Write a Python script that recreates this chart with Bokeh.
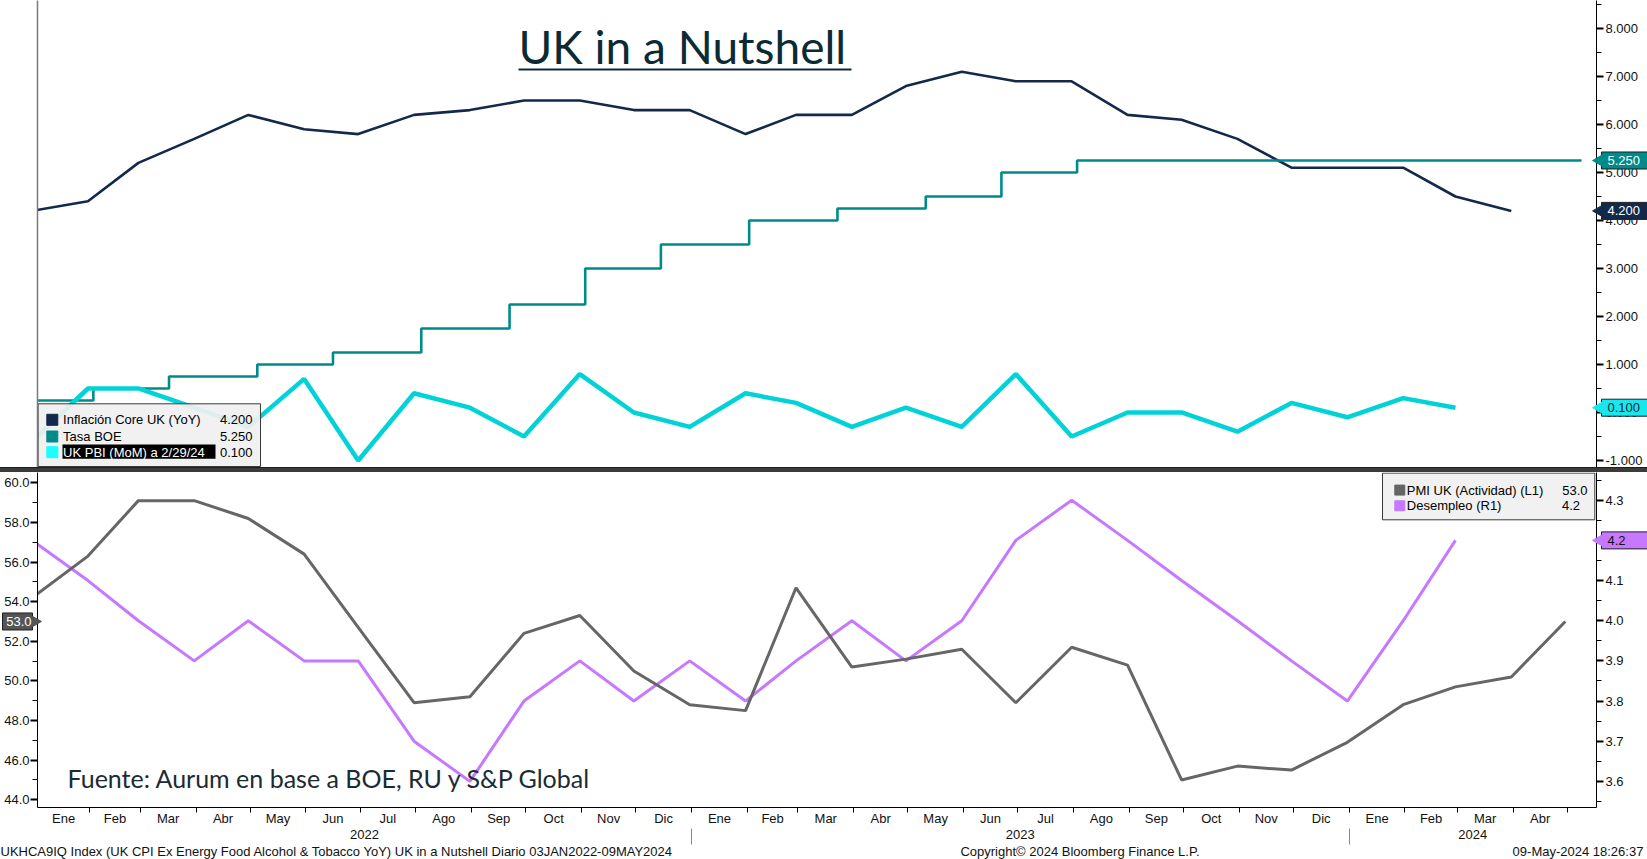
import math
import pandas as pd
from bokeh.plotting import figure
from bokeh.models import Range1d, LinearAxis, FixedTicker, NumeralTickFormatter, Label, Div
from bokeh.layouts import column
from bokeh.embed import file_html
from bokeh.resources import INLINE
from bokeh.core.properties import value

# ---------------- DATA ----------------
core_start = "2021-12"
core_yoy = [4.2, 4.4, 5.2, 5.7, 6.2, 5.9, 5.8, 6.2, 6.3, 6.5, 6.5, 6.3, 6.3,
            5.8, 6.2, 6.2, 6.8, 7.1, 6.9, 6.9, 6.2, 6.1, 5.7, 5.1, 5.1,
            5.1, 4.5, 4.2]
gdp_start = "2021-12"
gdp_mom = [-0.6, 0.5, 0.5, 0.1, -0.3, 0.7, -1.0, 0.4, 0.1, -0.5, 0.8, 0.0, -0.3,
           0.4, 0.2, -0.3, 0.1, -0.3, 0.8, -0.5, 0.0, 0.0, -0.4, 0.2, -0.1,
           0.3, 0.1]
boe_dates = ["2021-12-16", "2022-02-03", "2022-03-17", "2022-05-05", "2022-06-16",
             "2022-08-04", "2022-09-22", "2022-11-03", "2022-12-15", "2023-02-02",
             "2023-03-23", "2023-05-11", "2023-06-22", "2023-08-03", "2024-05-09"]
boe_rate = [0.25, 0.5, 0.75, 1.0, 1.25, 1.75, 2.25, 3.0, 3.5, 4.0, 4.25, 4.5, 5.0, 5.25, 5.25]
pmi_start = "2021-12"
pmi = [54.2, 56.3, 59.1, 59.1, 58.2, 56.4, 52.7, 48.9, 49.2, 52.4, 53.3, 50.5, 48.8,
       48.5, 54.7, 50.7, 51.1, 51.6, 48.9, 51.7, 50.8, 45.0, 45.7, 45.5, 46.9,
       48.8, 49.7, 50.2, 53.0]
unemp_start = "2021-12"
unemp = [4.2, 4.1, 4.0, 3.9, 4.0, 3.9, 3.9, 3.7, 3.6, 3.8, 3.9, 3.8, 3.9,
         3.8, 3.9, 4.0, 3.9, 4.0, 4.2, 4.3, 4.2, 4.1, 4.0, 3.9, 3.8,
         4.0, 4.2]
month_names = ["Ene", "Feb", "Mar", "Abr", "May", "Jun", "Jul", "Ago", "Sep", "Oct", "Nov", "Dic"]
year_names = ["2022", "2023", "2024"]
top_names = ["Inflación Core UK (YoY)", "Tasa BOE", "UK PBI (MoM) a 2/29/24"]
bottom_names = ["PMI UK (Actividad) (L1)", "Desempleo (R1)"]
title_text = "UK in a Nutshell"
source_text = "Fuente: Aurum en base a BOE, RU y S&P Global"
footer_texts = ["UKHCA9IQ Index (UK CPI Ex Energy Food Alcohol & Tobacco YoY) UK in a Nutshell  Diario 03JAN2022-09MAY2024",
                "Copyright\u00a9 2024 Bloomberg Finance L.P.",
                "09-May-2024 18:26:37"]
x_start = pd.Timestamp("2022-01-03")
x_end = pd.Timestamp("2024-05-17 07:00")

# ---------------- STYLE / LAYOUT ----------------
C_CORE = "#13294b"
C_BOE = "#008b8b"
C_GDP = "#00d3d8"
C_GDP_KEY = "#19ffff"
C_PMI = "#666666"
C_UNEMP = "#c678ff"
C_TITLE = "#0b2a33"
FONT = "Liberation Sans"
W = 1647
LB, RB = 37, 51
FW = W - LB - RB          # 1559
TOP_FH = 467
SEP_H = 5
BOT_FH = 335
footer_centers_px = [337.5, 1079.5, 1577.5]   # canvas px centres of the footer strings


def month_ends(start, n):
    return pd.period_range(start, periods=n, freq="M").to_timestamp(how="end").normalize()


def ms(ts):
    return int(pd.Timestamp(ts).value // 10**6)


X0, X1 = ms(x_start), ms(x_end)
xr = Range1d(X0, X1)


def canvas_to_x(px):
    return X0 + (px - LB) / FW * (X1 - X0)


def style_axis(ax, size="13px"):
    ax.major_label_text_font = FONT
    ax.major_label_text_font_size = size
    ax.major_label_text_color = "#111111"
    ax.axis_line_color = "#000000"
    ax.major_tick_line_color = "#000000"
    ax.minor_tick_line_color = "#000000"


def axis_tag(p, xpx, yval, txt, bg, fg, y_range_name="default", side="right", width=50):
    """Value tag drawn on an axis: box + arrow + text, above everything (overlay level)."""
    if side == "right":
        cx, tip, tx, align, ang = xpx + 5 + width / 2, xpx + 3, xpx + 11, "left", math.pi / 2
    else:
        cx, tip, tx, align, ang = xpx - 5 - width / 2, xpx - 3, xpx - 6, "right", -math.pi / 2
    rs = [p.rect(x=[cx], y=[yval], width=width, height=17, height_units="screen",
                 x_range_name="px", y_range_name=y_range_name,
                 fill_color=bg, line_color="#1e1e1e", line_width=1),
          p.scatter(x=[tip], y=[yval], marker="triangle", size=12, angle=ang,
                    x_range_name="px", y_range_name=y_range_name,
                    fill_color=bg, line_color=bg),
          p.text(x=[tx], y=[yval], text=[txt], x_range_name="px", y_range_name=y_range_name,
                 text_font=value(FONT), text_font_size="13px", text_align=align,
                 text_baseline="middle", text_color=fg)]
    for r in rs:
        r.level = "overlay"


# ---------------- TOP PANEL ----------------
p1 = figure(frame_width=FW, frame_height=TOP_FH, x_range=xr, y_range=Range1d(-1.146, 8.583),
            x_axis_type=None, y_axis_type=None, output_backend="svg", toolbar_location=None,
            min_border_left=LB, min_border_right=RB, min_border_top=0, min_border_bottom=0)
p1.outline_line_color = None
p1.extra_x_ranges = {"px": Range1d(0, FW)}
p1.extra_y_ranges = {"px": Range1d(TOP_FH, 0)}

axr = LinearAxis(ticker=FixedTicker(ticks=list(range(-1, 9)),
                                    minor_ticks=[i + 0.5 for i in range(-2, 9)]),
                 formatter=NumeralTickFormatter(format="0.000"))
style_axis(axr)
axr.major_tick_out = 7
axr.major_tick_in = 0
axr.major_tick_line_width = 2
axr.minor_tick_out = 5
axr.minor_tick_in = 0
axr.major_label_standoff = 2
p1.add_layout(axr, "right")

axl = LinearAxis(ticker=FixedTicker(ticks=[]), major_label_text_font_size="0px")
axl.axis_line_color = "#7a7a7a"
axl.axis_line_width = 1.5
axl.major_tick_line_color = None
axl.minor_tick_line_color = None
p1.add_layout(axl, "left")

p1.line(month_ends(core_start, len(core_yoy)), core_yoy, line_color=C_CORE, line_width=2.6)
p1.step(pd.to_datetime(boe_dates), boe_rate, mode="after", line_color=C_BOE, line_width=2.6)
p1.line(month_ends(gdp_start, len(gdp_mom)), gdp_mom, line_color=C_GDP, line_width=4.5)

# title
p1.text(x=[481], y=[46], text=[title_text], x_range_name="px", y_range_name="px",
        text_font=value("Lato"), text_font_size="46px", text_baseline="middle",
        text_color=C_TITLE)
p1.segment(x0=[481], x1=[814], y0=[69], y1=[69], x_range_name="px", y_range_name="px",
           line_color=C_TITLE, line_width=2)

# legend (top)
rows1 = [419.3, 436.0, 451.7]
p1.quad(left=[0.6], right=[223], top=[403.3], bottom=[466], x_range_name="px", y_range_name="px",
        fill_color="#f0f0f0", fill_alpha=0.92, line_color="#3a3a3a", line_width=1)
p1.scatter(x=[14.8] * 3, y=rows1, size=11, marker="square",
           color=[C_CORE, C_BOE, C_GDP_KEY], x_range_name="px", y_range_name="px")
p1.quad(left=[25], right=[178], top=[444], bottom=[458.3], x_range_name="px", y_range_name="px",
        fill_color="#000000", line_color=None)
p1.text(x=[25.6] * 3, y=rows1, text=top_names, x_range_name="px", y_range_name="px",
        text_font=value(FONT), text_font_size="13px", text_baseline="middle",
        text_color=["#000000", "#000000", "#ffffff"])
top_vals = [f"{core_yoy[-1]:.3f}", f"{boe_rate[-1]:.3f}", f"{gdp_mom[-1]:.3f}"]
p1.text(x=[215] * 3, y=rows1, text=top_vals, x_range_name="px", y_range_name="px",
        text_font=value(FONT), text_font_size="13px", text_baseline="middle",
        text_align="right", text_color="#000000")

# value tags on the right axis
axis_tag(p1, FW, boe_rate[-1], top_vals[1], C_BOE, "#ffffff")
axis_tag(p1, FW, core_yoy[-1], top_vals[0], C_CORE, "#ffffff")
axis_tag(p1, FW, gdp_mom[-1], top_vals[2], "#1ae6ee", "#0b2a33")

# ---------------- SEPARATOR ----------------
sep = Div(width=W, height=SEP_H, margin=0,
          styles={"background-color": "#3b3b3b", "border-top": "1px solid #1e1e1e",
                  "box-sizing": "border-box", "overflow": "hidden"},
          text='<div style="width:15px;height:1px;margin:0 auto;border-top:1px solid #9a9a9a;'
               'border-bottom:1px solid #9a9a9a"></div>')

# ---------------- BOTTOM PANEL ----------------
p2 = figure(frame_width=FW, frame_height=BOT_FH, x_range=xr, y_range=Range1d(43.61, 60.52),
            x_axis_type=None, y_axis_type=None, output_backend="svg", toolbar_location=None,
            min_border_left=LB, min_border_right=RB, min_border_top=0, min_border_bottom=0)
p2.outline_line_color = None
p2.extra_y_ranges = {"unemp": Range1d(3.535, 4.369), "px": Range1d(BOT_FH, 0)}
p2.extra_x_ranges = {"px": Range1d(0, FW)}

axpl = LinearAxis(ticker=FixedTicker(ticks=list(range(44, 61, 2)), minor_ticks=list(range(43, 61, 2))),
                  formatter=NumeralTickFormatter(format="0.0"))
style_axis(axpl)
axpl.major_tick_out = 7
axpl.major_tick_in = 0
axpl.major_tick_line_width = 2
axpl.minor_tick_out = 5
axpl.minor_tick_in = 0
axpl.major_label_standoff = 1
p2.add_layout(axpl, "left")

axur = LinearAxis(y_range_name="unemp",
                  ticker=FixedTicker(ticks=[3.6, 3.7, 3.8, 3.9, 4.0, 4.1, 4.2, 4.3],
                                     minor_ticks=[3.55, 3.65, 3.75, 3.85, 3.95, 4.05, 4.15, 4.25, 4.35]),
                  formatter=NumeralTickFormatter(format="0.0"))
style_axis(axur)
axur.major_tick_out = 7
axur.major_tick_in = 0
axur.major_tick_line_width = 2
axur.minor_tick_out = 5
axur.minor_tick_in = 0
axur.major_label_standoff = 2
p2.add_layout(axur, "right")

# month axis
month_starts = pd.date_range("2022-01-01", "2024-05-01", freq="MS")
label_ticks, label_over = [], {}
for i in range(len(month_starts) - 1):
    a = max(month_starts[i], x_start)
    b = min(month_starts[i + 1], x_end)
    c = ms(a) + (ms(b) - ms(a)) // 2
    label_ticks.append(c)
    label_over[c] = month_names[month_starts[i].month - 1]
axm = LinearAxis(ticker=FixedTicker(ticks=label_ticks,
                                    minor_ticks=[ms(m) for m in month_starts if m > x_start]))
style_axis(axm)
axm.major_label_overrides = label_over
axm.major_tick_out = 0
axm.major_tick_in = 0
axm.minor_tick_out = 5
axm.minor_tick_in = 0
axm.major_label_standoff = -2
p2.add_layout(axm, "below")

# year axis
year_bounds = [x_start, pd.Timestamp("2023-01-01"), pd.Timestamp("2024-01-01"), x_end]
year_ticks, year_over = [], {}
for i, yn in enumerate(year_names):
    c = ms(year_bounds[i]) + (ms(year_bounds[i + 1]) - ms(year_bounds[i])) // 2
    year_ticks.append(c)
    year_over[c] = yn
axy = LinearAxis(ticker=FixedTicker(ticks=year_ticks, minor_ticks=[ms(b) for b in year_bounds[1:3]]))
style_axis(axy)
axy.major_label_overrides = year_over
axy.axis_line_color = None
axy.major_tick_out = 0
axy.major_tick_in = 0
axy.minor_tick_out = 16
axy.minor_tick_in = 0
axy.minor_tick_line_color = "#8a8a8a"
axy.major_label_standoff = -15
p2.add_layout(axy, "below")

# footer line (an unlined axis carrying three labels)
foot_ticks = [int(canvas_to_x(c)) for c in footer_centers_px]
axf = LinearAxis(ticker=FixedTicker(ticks=foot_ticks))
style_axis(axf)
axf.major_label_overrides = dict(zip(foot_ticks, footer_texts))
axf.axis_line_color = None
axf.major_tick_line_color = None
axf.major_tick_out = 0
axf.major_tick_in = 0
axf.major_label_standoff = 2
p2.add_layout(axf, "below")

p2.line(month_ends(unemp_start, len(unemp)), unemp, y_range_name="unemp",
        line_color=C_UNEMP, line_width=3)
p2.line(month_ends(pmi_start, len(pmi)), pmi, line_color=C_PMI, line_width=3)

# source note (as a Label annotation inside the frame)
try:
    src = Label(x=30, y=305, x_range_name="px", y_range_name="px", text=source_text,
                text_font="Lato", text_font_size="25px", text_baseline="middle",
                text_color="#1b2b33")
except Exception:
    src = Label(x=30, y=305, x_range_name="px", y_range_name="px", text=source_text,
                text_font=value("Lato"), text_font_size="25px", text_baseline="middle",
                text_color="#1b2b33")
p2.add_layout(src)

# legend (bottom)
rows2 = [17.6, 33.3]
p2.quad(left=[1345], right=[1557.3], top=[0.6], bottom=[47.3], x_range_name="px", y_range_name="px",
        fill_color="#f0f0f0", fill_alpha=0.95, line_color="#3a3a3a", line_width=1)
p2.scatter(x=[1362.3] * 2, y=rows2, size=10, marker="square", color=[C_PMI, C_UNEMP],
           x_range_name="px", y_range_name="px")
p2.text(x=[1369.3] * 2, y=rows2, text=bottom_names, x_range_name="px", y_range_name="px",
        text_font=value(FONT), text_font_size="13px", text_baseline="middle", text_color="#000000")
bot_vals = [f"{pmi[-1]:.1f}", f"{unemp[-1]:.1f}"]
p2.text(x=[1550, 1542.6], y=rows2, text=bot_vals, x_range_name="px", y_range_name="px",
        text_font=value(FONT), text_font_size="13px", text_baseline="middle",
        text_align="right", text_color="#000000")

axis_tag(p2, FW, unemp[-1], bot_vals[1], C_UNEMP, "#111111", y_range_name="unemp")
axis_tag(p2, 0, pmi[-1], bot_vals[0], "#555555", "#ffffff", side="left", width=30)

layout = column(p1, sep, p2, spacing=0)
open("out.html", "w").write(file_html(layout, INLINE))
